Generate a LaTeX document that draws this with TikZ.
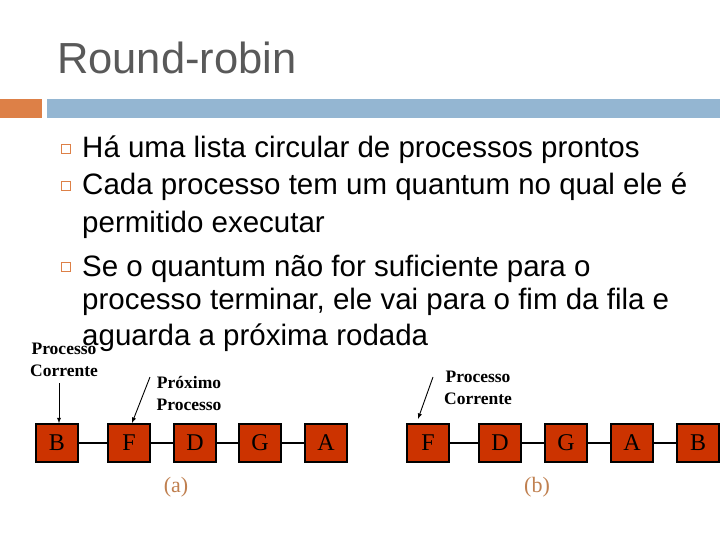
\documentclass[tikz,border=0pt]{standalone}
\usepackage{fontspec}
\setmainfont{Liberation Serif}
\newfontfamily\sansf{Liberation Sans}
\definecolor{boxred}{HTML}{CC3300}
\definecolor{bar1}{HTML}{DD8047}
\definecolor{bar2}{HTML}{94B6D2}
\definecolor{capc}{HTML}{C08050}
\begin{document}
\begin{tikzpicture}[x=1pt,y=-1pt,
  proc/.style={draw=black,line width=1.5pt,fill=boxred,minimum width=42pt,minimum height=38pt,inner sep=0pt,font=\fontsize{24}{24}\selectfont},
  lbl/.style={font=\bfseries\fontsize{17.5}{22}\selectfont,align=center,inner sep=0pt},
  bul/.style={draw=bar1,line width=0.8pt,minimum size=9pt,inner sep=0pt},
  btxt/.style={anchor=base west,inner sep=0pt,font=\sansf\fontsize{29.5}{29.5}\selectfont},
  link/.style={line width=2pt},
  arr/.style={-latex,line width=0.9pt}]
\useasboundingbox (0,0) rectangle (720,540);
\fill[white] (0,0) rectangle (720,540);
\node[anchor=base west,inner sep=0pt,text=black!65,font=\sansf\fontsize{43.5}{43.5}\selectfont] (title) at (57,74) {Round-robin};
\fill[bar1] (0,99) rectangle (42,118);
\fill[bar2] (47,99) rectangle (720,118);
\node[bul] (b1) at (66,149) {};
\node[bul] (b2) at (66,186) {};
\node[bul] (b3) at (66,267) {};
\node[btxt] (t1) at (82,158) {Há uma lista circular de processos prontos};
\node[btxt] (t2) at (82,195) {Cada processo tem um quantum no qual ele é};
\node[btxt] (t3) at (82,233) {permitido executar};
\node[btxt] (t4) at (82,276) {Se o quantum não for suficiente para o};
\node[btxt] (t5) at (82,309) {processo terminar, ele vai para o fim da fila e};
\node[btxt] (t6) at (82,345) {aguarda a próxima rodada};
% (a)
\node[proc] (aB) at (57,443) {B};
\node[proc] (aF) at (129,443) {F};
\node[proc] (aD) at (195,443) {D};
\node[proc] (aG) at (260,443) {G};
\node[proc] (aA) at (326,443) {A};
\draw[link] (aB) -- (aF) (aF) -- (aD) (aD) -- (aG) (aG) -- (aA);
% (b)
\node[proc] (bF) at (428,443) {F};
\node[proc] (bD) at (500,443) {D};
\node[proc] (bG) at (566,443) {G};
\node[proc] (bA) at (632,443) {A};
\node[proc] (bB) at (698,443) {B};
\draw[link] (bF) -- (bD) (bD) -- (bG) (bG) -- (bA) (bA) -- (bB);
% labels
\node[lbl] (l1) at (64,360) {Processo\\Corrente};
\node[lbl] (l2) at (189,394) {Próximo\\Processo};
\node[lbl] (l3) at (478,388) {Processo\\Corrente};
\coordinate (s1) at (59,383);
\coordinate (s2) at (150,377);
\coordinate (s3) at (433,377);
\draw[arr] (s1) -- (aB.north -| s1);
\draw[arr] (s2) -- (132,423);
\draw[arr] (s3) -- (418,419);
\node[text=capc,font=\fontsize{22}{22}\selectfont] (ca) at (176,487) {(a)};
\node[text=capc,font=\fontsize{22}{22}\selectfont] (cb) at (537,487) {(b)};
\end{tikzpicture}
\end{document}
